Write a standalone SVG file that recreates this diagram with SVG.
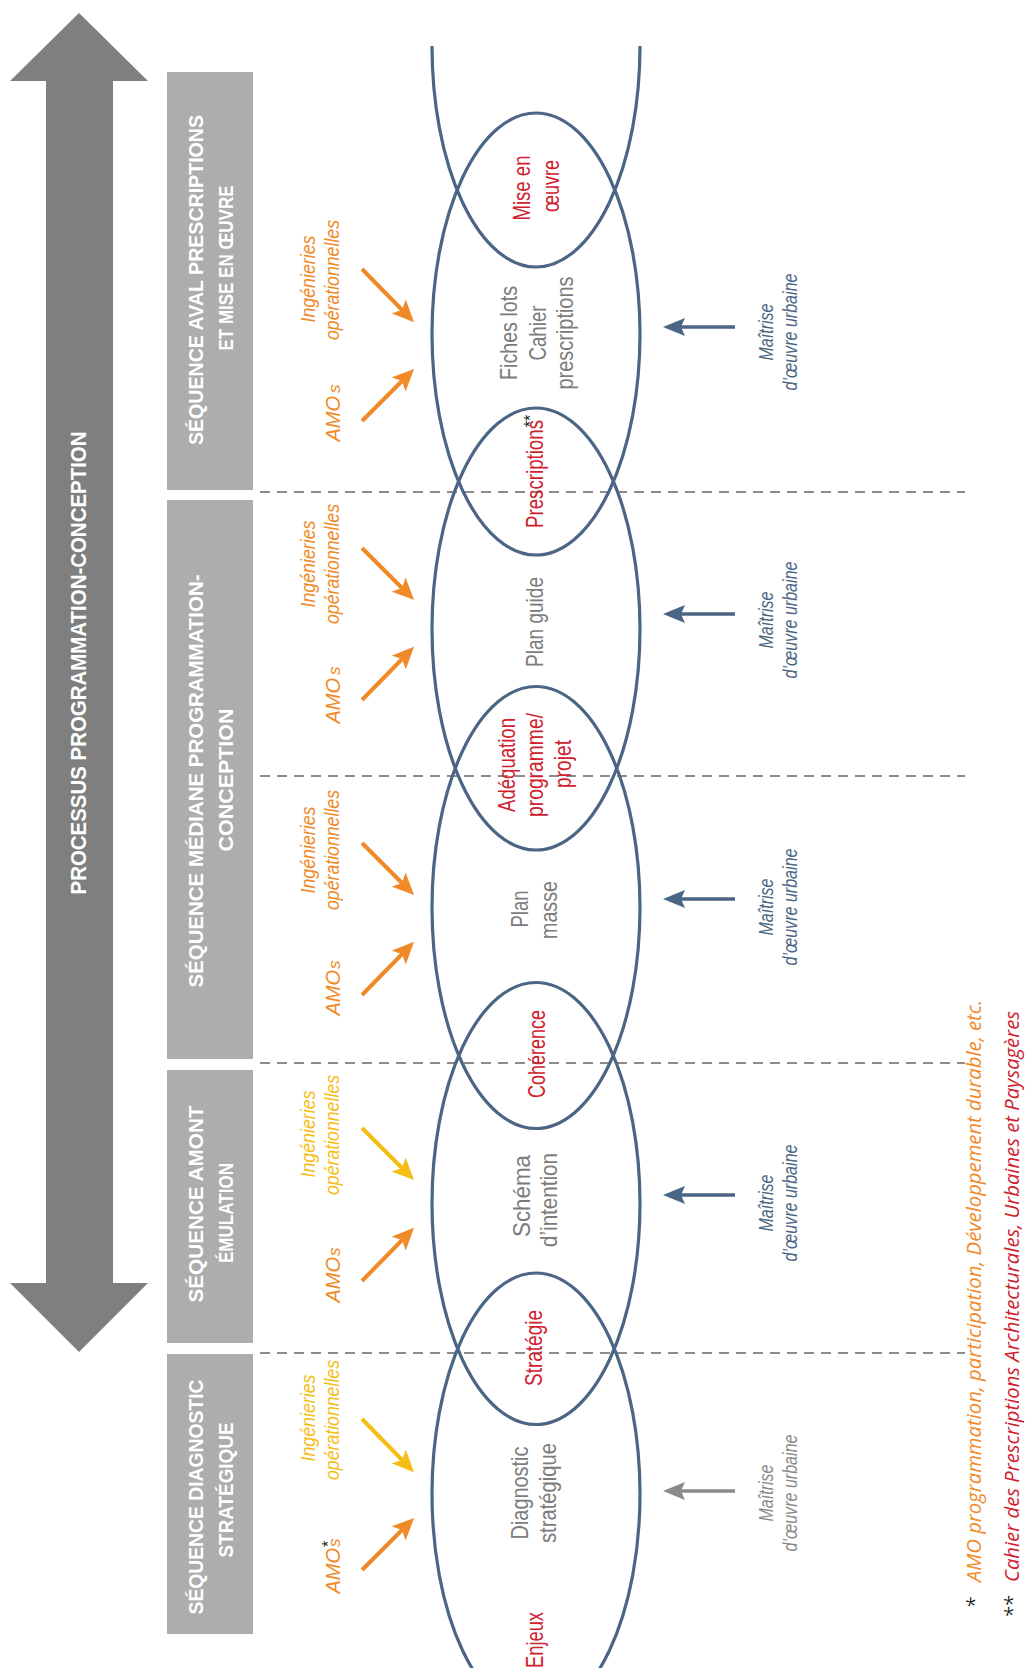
<svg xmlns="http://www.w3.org/2000/svg" width="1027" height="1668" viewBox="0 0 1027 1668">
<style>
.bg{fill:#ffffff}
.big{fill:#7f7f7f}
.box{fill:#adadad}
.tt{font-family:"Liberation Sans",Arial,sans-serif;font-size:22px;font-weight:bold;fill:#ffffff;text-anchor:middle}
.bt{font-family:"Liberation Sans",Arial,sans-serif;font-size:20px;font-weight:bold;fill:#ffffff;text-anchor:middle}
.ell{fill:none;stroke:#4b6584;stroke-width:3.2}
.dash{stroke:#8c8c8c;stroke-width:2;stroke-dasharray:10 7;fill:none}
.ct{font-family:"Liberation Sans Narrow","Liberation Sans",Arial,sans-serif;font-size:24px;text-anchor:middle}
.gr{fill:#7c7c7c}
.rd{fill:#d0202e}
.lb{font-family:"Liberation Sans Narrow","Liberation Sans",Arial,sans-serif;font-size:20px;font-style:italic;text-anchor:middle}
.or{fill:#f08a28}
.ye{fill:#f6bd16}
.bl{fill:#4b6584}
.gy{fill:#8a8a8a}
.ast{font-family:"Liberation Sans",Arial,sans-serif;font-size:16px;fill:#1a1a1a;text-anchor:middle}
.fn{font-family:"Open Sans","Liberation Sans",Arial,sans-serif;font-size:20px;font-style:italic}
.la-or{stroke:#f08a28;stroke-width:4;fill:none}
.la-ye{stroke:#f6bd16;stroke-width:4;fill:none}
.la-bl{stroke:#4b6584;stroke-width:3.5;fill:none}
.la-gy{stroke:#8a8a8a;stroke-width:3.5;fill:none}
</style>
<defs>
<marker id="mOr" markerUnits="userSpaceOnUse" markerWidth="22" markerHeight="20" viewBox="0 0 22 20" refX="12" refY="10" orient="auto"><path d="M0,0 L22,10 L0,20 L5,10 Z" fill="#f08a28"/></marker>
<marker id="mYe" markerUnits="userSpaceOnUse" markerWidth="22" markerHeight="20" viewBox="0 0 22 20" refX="12" refY="10" orient="auto"><path d="M0,0 L22,10 L0,20 L5,10 Z" fill="#f6bd16"/></marker>
<marker id="mBl" markerUnits="userSpaceOnUse" markerWidth="22" markerHeight="18" viewBox="0 0 22 18" refX="12" refY="9" orient="auto"><path d="M0,0 L22,9 L0,18 L4,9 Z" fill="#4b6584"/></marker>
<marker id="mGy" markerUnits="userSpaceOnUse" markerWidth="22" markerHeight="18" viewBox="0 0 22 18" refX="12" refY="9" orient="auto"><path d="M0,0 L22,9 L0,18 L4,9 Z" fill="#8a8a8a"/></marker>
<clipPath id="clipTop"><rect x="0" y="46" width="1027" height="1622"/></clipPath>
</defs>
<rect class="bg" x="0" y="0" width="1027" height="1668"/>

<g id="process-arrow">
<polygon class="big" points="79,13 148,81 113,81 113,1283 148,1283 79,1352 10,1283 46,1283 46,81 10,81"/>
<text class="tt" transform="translate(86,663) rotate(-90)" textLength="463" lengthAdjust="spacingAndGlyphs">PROCESSUS PROGRAMMATION-CONCEPTION</text>
</g>

<g id="seq-aval">
<rect class="box" x="167" y="72" width="86" height="418"/>
<text class="bt" transform="translate(203,280) rotate(-90)" textLength="330" lengthAdjust="spacingAndGlyphs">SÉQUENCE AVAL PRESCRIPTIONS</text>
<text class="bt" transform="translate(233,268) rotate(-90)" textLength="165" lengthAdjust="spacingAndGlyphs">ET MISE EN ŒUVRE</text>
</g>
<g id="seq-mediane">
<rect class="box" x="167" y="500" width="86" height="559"/>
<text class="bt" transform="translate(203,781) rotate(-90)" textLength="413" lengthAdjust="spacingAndGlyphs">SÉQUENCE MÉDIANE PROGRAMMATION-</text>
<text class="bt" transform="translate(233,780) rotate(-90)" textLength="143" lengthAdjust="spacingAndGlyphs">CONCEPTION</text>
</g>
<g id="seq-amont">
<rect class="box" x="167" y="1070" width="86" height="273"/>
<text class="bt" transform="translate(203,1204) rotate(-90)" textLength="197" lengthAdjust="spacingAndGlyphs">SÉQUENCE AMONT</text>
<text class="bt" transform="translate(233,1213) rotate(-90)" textLength="100" lengthAdjust="spacingAndGlyphs">ÉMULATION</text>
</g>
<g id="seq-diagnostic">
<rect class="box" x="167" y="1354" width="86" height="280"/>
<text class="bt" transform="translate(203,1497) rotate(-90)" textLength="235" lengthAdjust="spacingAndGlyphs">SÉQUENCE DIAGNOSTIC</text>
<text class="bt" transform="translate(233,1490) rotate(-90)" textLength="135" lengthAdjust="spacingAndGlyphs">STRATÉGIQUE</text>
</g>

<g id="separators">
<line class="dash" x1="260" y1="492" x2="965" y2="492"/>
<line class="dash" x1="260" y1="776" x2="965" y2="776"/>
<line class="dash" x1="260" y1="1063" x2="965" y2="1063"/>
<line class="dash" x1="260" y1="1353" x2="965" y2="1353"/>
</g>

<g id="ellipses">
<ellipse id="e6" class="ell" cx="536" cy="46" rx="104" ry="221" clip-path="url(#clipTop)"/>
<ellipse id="e5" class="ell" cx="536" cy="334" rx="104" ry="221"/>
<ellipse id="e4" class="ell" cx="536" cy="629" rx="104" ry="221"/>
<ellipse id="e3" class="ell" cx="536" cy="907.5" rx="104" ry="221"/>
<ellipse id="e2" class="ell" cx="536" cy="1203.5" rx="104" ry="221"/>
<ellipse id="e1" class="ell" cx="536" cy="1494" rx="104" ry="221"/>
</g>

<g id="node-mise-en-oeuvre">
<text class="ct rd" transform="translate(530,188) rotate(-90)" textLength="65" lengthAdjust="spacingAndGlyphs">Mise en</text>
<text class="ct rd" transform="translate(559,186) rotate(-90)" textLength="52" lengthAdjust="spacingAndGlyphs">œuvre</text>
</g>
<g id="node-fiches">
<text class="ct gr" transform="translate(517,333) rotate(-90)" textLength="94" lengthAdjust="spacingAndGlyphs">Fiches lots</text>
<text class="ct gr" transform="translate(546,333) rotate(-90)" textLength="55" lengthAdjust="spacingAndGlyphs">Cahier</text>
<text class="ct gr" transform="translate(573,333) rotate(-90)" textLength="113" lengthAdjust="spacingAndGlyphs">prescriptions</text>
</g>
<g id="node-prescriptions">
<text class="ct rd" transform="translate(543,474) rotate(-90)" textLength="108" lengthAdjust="spacingAndGlyphs">Prescriptions</text>
<text class="ast" transform="translate(536,421) rotate(-90)">**</text>
</g>
<g id="node-plan-guide">
<text class="ct gr" transform="translate(543,622) rotate(-90)" textLength="90" lengthAdjust="spacingAndGlyphs">Plan guide</text>
</g>
<g id="node-adequation">
<text class="ct rd" transform="translate(515,765) rotate(-90)" textLength="94" lengthAdjust="spacingAndGlyphs">Adéquation</text>
<text class="ct rd" transform="translate(543,765) rotate(-90)" textLength="104" lengthAdjust="spacingAndGlyphs">programme/</text>
<text class="ct rd" transform="translate(571,764) rotate(-90)" textLength="48" lengthAdjust="spacingAndGlyphs">projet</text>
</g>
<g id="node-plan-masse">
<text class="ct gr" transform="translate(528,909) rotate(-90)" textLength="37" lengthAdjust="spacingAndGlyphs">Plan</text>
<text class="ct gr" transform="translate(557,910) rotate(-90)" textLength="58" lengthAdjust="spacingAndGlyphs">masse</text>
</g>
<g id="node-coherence">
<text class="ct rd" transform="translate(545,1054) rotate(-90)" textLength="88" lengthAdjust="spacingAndGlyphs">Cohérence</text>
</g>
<g id="node-schema">
<text class="ct gr" transform="translate(530,1196) rotate(-90)" textLength="82" lengthAdjust="spacingAndGlyphs">Schéma</text>
<text class="ct gr" transform="translate(557,1200) rotate(-90)" textLength="94" lengthAdjust="spacingAndGlyphs">d’intention</text>
</g>
<g id="node-strategie">
<text class="ct rd" transform="translate(542,1348) rotate(-90)" textLength="76" lengthAdjust="spacingAndGlyphs">Stratégie</text>
</g>
<g id="node-diagnostic">
<text class="ct gr" transform="translate(528,1493) rotate(-90)" textLength="93" lengthAdjust="spacingAndGlyphs">Diagnostic</text>
<text class="ct gr" transform="translate(556,1493) rotate(-90)" textLength="100" lengthAdjust="spacingAndGlyphs">stratégique</text>
</g>
<g id="node-enjeux">
<text class="ct rd" transform="translate(543,1640) rotate(-90)" textLength="56" lengthAdjust="spacingAndGlyphs">Enjeux</text>
</g>

<g id="actors-aval">
<text class="lb or" transform="translate(315,279) rotate(-90)" textLength="87" lengthAdjust="spacingAndGlyphs">Ingénieries</text>
<text class="lb or" transform="translate(339,280) rotate(-90)" textLength="120" lengthAdjust="spacingAndGlyphs">opérationnelles</text>
<text class="lb or" transform="translate(340,413) rotate(-90)">AMO<tspan dx="3" font-size="17">s</tspan></text>
<text class="lb bl" transform="translate(773,332) rotate(-90)" textLength="57" lengthAdjust="spacingAndGlyphs">Maîtrise</text>
<text class="lb bl" transform="translate(797,332) rotate(-90)" textLength="117" lengthAdjust="spacingAndGlyphs">d’œuvre urbaine</text>
</g>
<g id="actors-plan-guide">
<text class="lb or" transform="translate(315,564) rotate(-90)" textLength="87" lengthAdjust="spacingAndGlyphs">Ingénieries</text>
<text class="lb or" transform="translate(339,564) rotate(-90)" textLength="120" lengthAdjust="spacingAndGlyphs">opérationnelles</text>
<text class="lb or" transform="translate(340,695) rotate(-90)">AMO<tspan dx="3" font-size="17">s</tspan></text>
<text class="lb bl" transform="translate(773,620) rotate(-90)" textLength="57" lengthAdjust="spacingAndGlyphs">Maîtrise</text>
<text class="lb bl" transform="translate(797,620) rotate(-90)" textLength="117" lengthAdjust="spacingAndGlyphs">d’œuvre urbaine</text>
</g>
<g id="actors-plan-masse">
<text class="lb or" transform="translate(315,850) rotate(-90)" textLength="87" lengthAdjust="spacingAndGlyphs">Ingénieries</text>
<text class="lb or" transform="translate(339,850) rotate(-90)" textLength="120" lengthAdjust="spacingAndGlyphs">opérationnelles</text>
<text class="lb or" transform="translate(340,988) rotate(-90)">AMO<tspan dx="1" font-size="17">s</tspan></text>
<text class="lb bl" transform="translate(773,907) rotate(-90)" textLength="57" lengthAdjust="spacingAndGlyphs">Maîtrise</text>
<text class="lb bl" transform="translate(797,907) rotate(-90)" textLength="117" lengthAdjust="spacingAndGlyphs">d’œuvre urbaine</text>
</g>
<g id="actors-schema">
<text class="lb ye" transform="translate(315,1134) rotate(-90)" textLength="87" lengthAdjust="spacingAndGlyphs">Ingénieries</text>
<text class="lb ye" transform="translate(339,1135) rotate(-90)" textLength="120" lengthAdjust="spacingAndGlyphs">opérationnelles</text>
<text class="lb or" transform="translate(340,1275) rotate(-90)">AMO<tspan dx="1" font-size="17">s</tspan></text>
<text class="lb bl" transform="translate(773,1203) rotate(-90)" textLength="57" lengthAdjust="spacingAndGlyphs">Maîtrise</text>
<text class="lb bl" transform="translate(797,1203) rotate(-90)" textLength="117" lengthAdjust="spacingAndGlyphs">d’œuvre urbaine</text>
</g>
<g id="actors-diagnostic">
<text class="lb ye" transform="translate(315,1418) rotate(-90)" textLength="87" lengthAdjust="spacingAndGlyphs">Ingénieries</text>
<text class="lb ye" transform="translate(339,1420) rotate(-90)" textLength="120" lengthAdjust="spacingAndGlyphs">opérationnelles</text>
<text class="lb or" transform="translate(340,1566) rotate(-90)">AMO<tspan dx="1" font-size="17">s</tspan></text>
<text class="ast" transform="translate(334,1544) rotate(-90)">*</text>
<text class="lb gy" transform="translate(773,1493) rotate(-90)" textLength="57" lengthAdjust="spacingAndGlyphs">Maîtrise</text>
<text class="lb gy" transform="translate(797,1493) rotate(-90)" textLength="117" lengthAdjust="spacingAndGlyphs">d’œuvre urbaine</text>
</g>

<g id="connectors">
<line class="la-or" x1="362" y1="269" x2="407" y2="315" marker-end="url(#mOr)"/>
<line class="la-or" x1="362" y1="421" x2="407" y2="376" marker-end="url(#mOr)"/>
<line class="la-or" x1="362" y1="548" x2="407" y2="593" marker-end="url(#mOr)"/>
<line class="la-or" x1="362" y1="700" x2="407" y2="654" marker-end="url(#mOr)"/>
<line class="la-or" x1="362" y1="843" x2="407" y2="888" marker-end="url(#mOr)"/>
<line class="la-or" x1="362" y1="995" x2="407" y2="949" marker-end="url(#mOr)"/>
<line class="la-ye" x1="362" y1="1128" x2="407" y2="1173" marker-end="url(#mYe)"/>
<line class="la-or" x1="362" y1="1281" x2="407" y2="1235" marker-end="url(#mOr)"/>
<line class="la-ye" x1="362" y1="1419" x2="407" y2="1465" marker-end="url(#mYe)"/>
<line class="la-or" x1="362" y1="1570" x2="407" y2="1525" marker-end="url(#mOr)"/>
<line class="la-bl" x1="735" y1="327" x2="673" y2="327" marker-end="url(#mBl)"/>
<line class="la-bl" x1="735" y1="614" x2="673" y2="614" marker-end="url(#mBl)"/>
<line class="la-bl" x1="735" y1="899" x2="673" y2="899" marker-end="url(#mBl)"/>
<line class="la-bl" x1="735" y1="1195" x2="673" y2="1195" marker-end="url(#mBl)"/>
<line class="la-gy" x1="735" y1="1491" x2="673" y2="1491" marker-end="url(#mGy)"/>
</g>

<g id="footnotes">
<text class="fn" fill="#1a1a1a" text-anchor="middle" transform="translate(981,1603) rotate(-90)">*</text>
<text class="fn" fill="#f08a28" transform="translate(981,1582) rotate(-90)" textLength="582" lengthAdjust="spacingAndGlyphs">AMO programmation, participation, Développement durable, etc.</text>
<text class="fn" fill="#1a1a1a" text-anchor="middle" transform="translate(1019,1607) rotate(-90)">**</text>
<text class="fn" fill="#d0202e" transform="translate(1019,1582) rotate(-90)" textLength="571" lengthAdjust="spacingAndGlyphs">Cahier des Prescriptions Architecturales, Urbaines et Paysagères</text>
</g>
</svg>
